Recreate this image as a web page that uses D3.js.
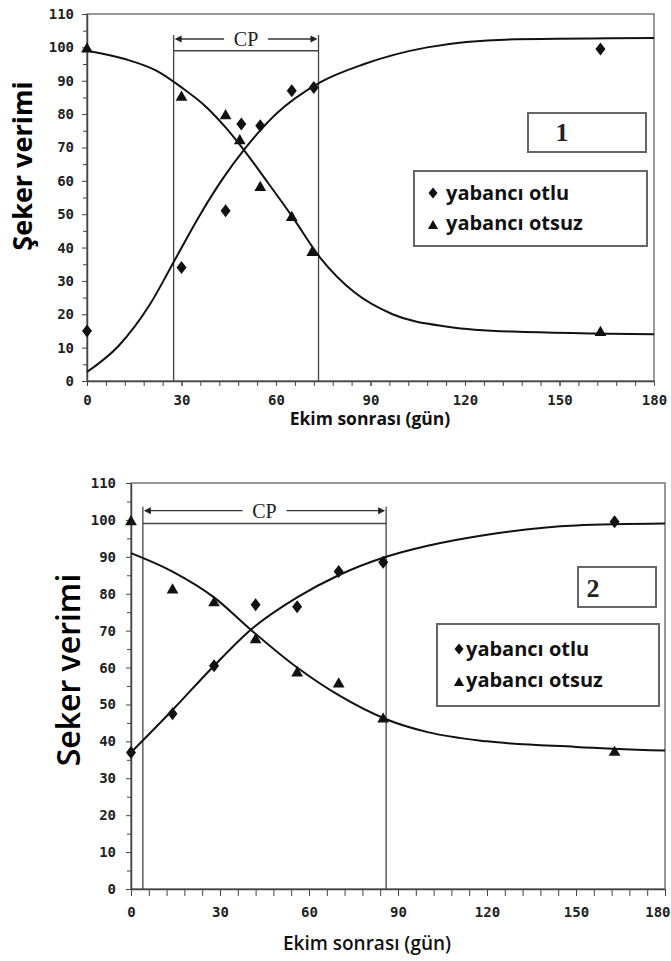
<!DOCTYPE html>
<html>
<head>
<meta charset="utf-8">
<script src="https://cdn.jsdelivr.net/npm/d3@7"></script>
<style>
  body { margin: 0; background: #fff; }
  svg { display: block; }
</style>
</head>
<body>
<script>
// shared axis values
var xTicks = [0, 30, 60, 90, 120, 150, 180];
var xMinor = d3.range(0, 181, 6);
var yTicks = [0, 10, 20, 30, 40, 50, 60, 70, 80, 90, 100, 110];
var yMinor = d3.range(5, 110, 10);
var legendLabels = ['yabancı otlu', 'yabancı otsuz'];

// chart 1
var otluDays1 = [0, 30, 44, 49, 55, 65, 72, 163];
var otluYield1 = [15, 34, 51, 77, 76.5, 87, 88, 99.5];
var otsuzDays1 = [0, 30, 44, 48.5, 55, 65, 71.5, 163];
var otsuzYield1 = [99.5, 85, 79.5, 72, 58, 49, 38.5, 14.5];
var otluCurveDays1 = [0, 10, 20, 28, 36, 43, 50, 60, 74, 88, 108, 136, 180];
var otluCurve1 = [2.7, 10.5, 23, 36.5, 50, 60.5, 69.5, 80, 89.5, 95, 100, 102.4, 102.8];
var otsuzCurveDays1 = [0, 12, 22, 30, 38, 44, 50, 57, 65, 74, 85, 97, 115, 135, 180];
var otsuzCurve1 = [99, 96.5, 93, 88, 82, 76, 69, 60, 49.5, 37, 26.5, 20, 16.2, 14.8, 14];
var cp1 = [27.5, 73.5];

// chart 2
var otluDays2 = [0, 14, 28, 42, 56, 70, 85, 163];
var otluYield2 = [37, 47.5, 60.5, 77, 76.5, 86, 88.5, 99.5];
var otsuzDays2 = [0, 14, 28, 42, 56, 70, 85, 163];
var otsuzYield2 = [99.5, 81, 77.5, 67.5, 58.5, 55.5, 46, 37];
var curveDays2 = [0, 14, 28, 40, 56, 70, 86, 100, 120, 150, 180];
var otluCurve2 = [37, 48.5, 60.5, 70, 79, 85, 90, 93, 96, 98.5, 99];
var otsuzCurve2 = [91, 86, 79, 70.5, 60, 52.5, 46, 42.5, 40, 38.5, 37.5];
var cp2 = [4, 86];

var cpArrow = 102.5, cpBar = 99;

var svg = d3.select('body').append('svg')
    .attr('width', 671)
    .attr('height', 961);

svg.append('rect').attr('width', 671).attr('height', 961).attr('fill', '#fff');

function zip(a, b) {
    return a.map(function(d, i) { return [d, b[i]]; });
}

// wider diamond than d3.symbolDiamond
function diamondPath(w, h) {
    return 'M0,' + (-h) + 'L' + w + ',0L0,' + h + 'L' + (-w) + ',0Z';
}

function styleAxis(s) {
    s.select('.domain').attr('stroke', '#444').attr('stroke-width', 1.5);
    s.selectAll('line').attr('stroke', '#444');
    s.selectAll('text')
        .attr('font-family', 'DejaVu Sans Mono')
        .attr('font-weight', 'bold')
        .attr('font-size', 14)
        .attr('fill', '#222');
}

function drawChart(c) {
    var x = d3.scaleLinear().domain([0, 180]).range([c.left, c.right]);
    var y = d3.scaleLinear().domain([0, 110]).range([c.bottom, c.top]);
    var g = svg.append('g');

    // frame
    g.append('rect')
        .attr('x', c.left).attr('y', c.top)
        .attr('width', c.right - c.left).attr('height', c.bottom - c.top)
        .attr('fill', 'none').attr('stroke', '#777').attr('stroke-width', 1.5);

    // minor ticks
    g.append('g').attr('transform', 'translate(0,' + c.bottom + ')')
        .call(d3.axisBottom(x).tickValues(xMinor).tickFormat('').tickSize(c.tick).tickSizeOuter(0))
        .call(function(s) { s.select('.domain').remove(); s.selectAll('line').attr('stroke', '#444'); });
    g.append('g').attr('transform', 'translate(' + c.left + ',0)')
        .call(d3.axisLeft(y).tickValues(yMinor).tickFormat('').tickSize(4).tickSizeOuter(0))
        .call(function(s) { s.select('.domain').remove(); s.selectAll('line').attr('stroke', '#444'); });

    // major axes
    var xg = g.append('g').attr('transform', 'translate(0,' + c.bottom + ')')
        .call(d3.axisBottom(x).tickValues(xTicks).tickSize(c.tick).tickPadding(c.xPad).tickSizeOuter(0))
        .call(styleAxis);
    if (c.lastRight) {
        // keep the last label inside the window
        xg.selectAll('.tick text').filter(function(d) { return d === 180; })
            .attr('text-anchor', 'end').attr('x', 5);
    }
    g.append('g').attr('transform', 'translate(' + c.left + ',0)')
        .call(d3.axisLeft(y).tickValues(yTicks).tickSize(5).tickPadding(c.yPad).tickSizeOuter(0))
        .call(styleAxis);

    // CP bracket
    var xa = x(c.cp[0]), xb = x(c.cp[1]), ya = y(cpArrow);
    g.selectAll('.cpv').data(c.cp).enter().append('line')
        .attr('x1', function(d) { return x(d); }).attr('x2', function(d) { return x(d); })
        .attr('y1', ya - 4).attr('y2', c.bottom)
        .attr('stroke', '#444').attr('stroke-width', 1.3);
    g.append('line')
        .attr('x1', xa).attr('x2', xb).attr('y1', y(cpBar)).attr('y2', y(cpBar))
        .attr('stroke', '#444').attr('stroke-width', 1.5);
    var mid = (xa + xb) / 2;
    g.append('line').attr('x1', xa + 6).attr('x2', mid - 22).attr('y1', ya).attr('y2', ya)
        .attr('stroke', '#333').attr('stroke-width', 1.3);
    g.append('line').attr('x1', mid + 22).attr('x2', xb - 6).attr('y1', ya).attr('y2', ya)
        .attr('stroke', '#333').attr('stroke-width', 1.3);
    g.append('path').attr('d', 'M' + (xa + 1) + ',' + ya + 'l7,-3.5v7z').attr('fill', '#222');
    g.append('path').attr('d', 'M' + (xb - 1) + ',' + ya + 'l-7,-3.5v7z').attr('fill', '#222');
    g.append('text').text('CP')
        .attr('x', mid).attr('y', ya)
        .attr('text-anchor', 'middle').attr('dominant-baseline', 'central')
        .attr('font-family', 'Liberation Serif').attr('font-size', 20).attr('fill', '#222');

    // curves
    var line = d3.line().x(function(d) { return x(d[0]); }).y(function(d) { return y(d[1]); })
        .curve(d3.curveMonotoneX);
    [c.otluCurve, c.otsuzCurve].forEach(function(pts) {
        g.append('path').attr('d', line(pts))
            .attr('fill', 'none').attr('stroke', '#111').attr('stroke-width', 2);
    });

    // points
    var triangle = d3.symbol().type(d3.symbolTriangle).size(60);
    g.selectAll('.otlu').data(c.otlu).enter().append('path')
        .attr('d', diamondPath(5, 6.5))
        .attr('transform', function(d) { return 'translate(' + x(d[0]) + ',' + y(d[1]) + ')'; })
        .attr('fill', '#111');
    g.selectAll('.otsuz').data(c.otsuz).enter().append('path')
        .attr('d', triangle)
        .attr('transform', function(d) { return 'translate(' + x(d[0]) + ',' + y(d[1]) + ')'; })
        .attr('fill', '#111');

    // number box
    var nb = c.numBox;
    g.append('rect').attr('x', nb[0]).attr('y', nb[1]).attr('width', nb[2]).attr('height', nb[3])
        .attr('fill', '#fff').attr('stroke', '#666').attr('stroke-width', 2);
    g.append('text').text(c.num)
        .attr('x', c.numPos[0]).attr('y', c.numPos[1])
        .attr('text-anchor', 'middle').attr('dominant-baseline', 'central')
        .attr('font-family', 'Liberation Serif').attr('font-weight', 'bold')
        .attr('font-size', 26).attr('fill', '#222');

    // legend
    var lb = c.legBox;
    g.append('rect').attr('x', lb[0]).attr('y', lb[1]).attr('width', lb[2]).attr('height', lb[3])
        .attr('fill', '#fff').attr('stroke', '#666').attr('stroke-width', 2);
    var legSym = [diamondPath(4.5, 5.5), d3.symbol().type(d3.symbolTriangle).size(45)()];
    legendLabels.forEach(function(t, i) {
        var by = c.legBase[i];
        g.append('path').attr('d', legSym[i])
            .attr('transform', 'translate(' + c.legSymX + ',' + (by - 7 + (i ? 3 : 0)) + ')')
            .attr('fill', '#111');
        g.append('text').text(t)
            .attr('x', c.legTextX).attr('y', by)
            .attr('font-family', 'Open Sans').attr('font-weight', 'bold')
            .attr('font-size', 20).attr('fill', '#111');
    });

    // axis titles
    g.append('text').text('Ekim sonrası (gün)')
        .attr('x', c.xTitle[0]).attr('y', c.xTitle[1])
        .attr('text-anchor', 'middle').attr('dominant-baseline', 'central')
        .attr('font-family', 'Open Sans').attr('font-weight', c.xTitleWeight)
        .attr('font-size', c.xTitleSize).attr('fill', '#111');
    g.append('text').text(c.yTitle)
        .attr('transform', 'translate(' + c.yTitlePos[0] + ',' + c.yTitlePos[1] + ') rotate(-90)')
        .attr('text-anchor', 'middle').attr('dominant-baseline', 'central')
        .attr('font-family', 'Open Sans').attr('font-weight', c.yTitleWeight)
        .attr('font-size', c.yTitleSize).attr('fill', '#000');
}

drawChart({
    left: 87, right: 654, top: 14, bottom: 381, tick: 5, xPad: 9, yPad: 8,
    cp: cp1,
    otlu: zip(otluDays1, otluYield1),
    otsuz: zip(otsuzDays1, otsuzYield1),
    otluCurve: zip(otluCurveDays1, otluCurve1),
    otsuzCurve: zip(otsuzCurveDays1, otsuzCurve1),
    num: '1', numBox: [528, 113, 118, 39], numPos: [562, 132],
    legBox: [414, 171, 233, 75], legBase: [200, 230], legSymX: 433, legTextX: 446,
    xTitle: [370, 418], xTitleSize: 17.5, xTitleWeight: 'bold',
    yTitle: 'Şeker verimi', yTitlePos: [21, 166], yTitleSize: 27, yTitleWeight: 'bold'
});

drawChart({
    left: 131, right: 665, top: 483, bottom: 889, tick: 7, xPad: 11, yPad: 10, lastRight: true,
    cp: cp2,
    otlu: zip(otluDays2, otluYield2),
    otsuz: zip(otsuzDays2, otsuzYield2),
    otluCurve: zip(curveDays2, otluCurve2),
    otsuzCurve: zip(curveDays2, otsuzCurve2),
    num: '2', numBox: [578, 567, 78, 40], numPos: [593, 588],
    legBox: [437, 624, 222, 82], legBase: [656, 687], legSymX: 459, legTextX: 466,
    xTitle: [367, 943], xTitleSize: 19, xTitleWeight: 600,
    yTitle: 'Seker verimi', yTitlePos: [67, 670], yTitleSize: 32, yTitleWeight: 600
});
</script>
</body>
</html>
